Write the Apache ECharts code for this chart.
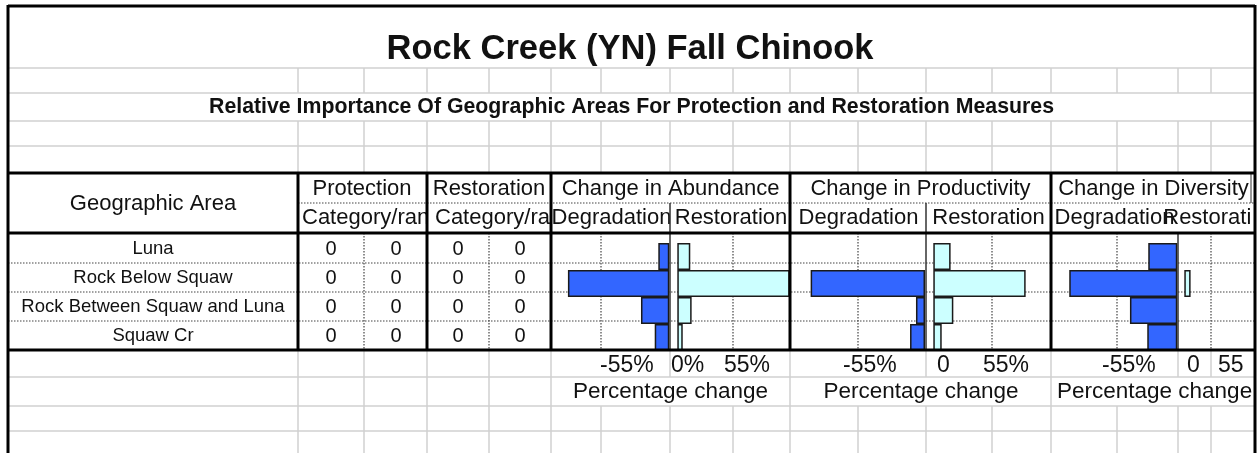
<!DOCTYPE html>
<html>
<head>
<meta charset="utf-8">
<title>Rock Creek (YN) Fall Chinook</title>
<script src="https://cdn.jsdelivr.net/npm/echarts@6/dist/echarts.min.js"></script>
<style>
  html, body { margin: 0; padding: 0; background: #fff; }
  #chart { width: 1260px; height: 453px; }
</style>
</head>
<body>
<div id="chart"></div>
<script>
// --- data ---
const titleText = "Rock Creek (YN) Fall Chinook";
const subtitleText = "Relative Importance Of Geographic Areas For Protection and Restoration Measures";
const areas = ["Luna", "Rock Below Squaw", "Rock Between Squaw and Luna", "Squaw Cr"];
const protectionCategory = [0, 0, 0, 0];
const protectionRank = [0, 0, 0, 0];
const restorationCategory = [0, 0, 0, 0];
const restorationRank = [0, 0, 0, 0];
// percent change, degradation negative
const abundanceDegradation = [-8.9, -82.0, -22.9, -11.8];
const abundanceRestoration = [10.5, 91.0, 11.6, 4.4];
const productivityDegradation = [0, -92.5, -7.3, -12.1];
const productivityRestoration = [14.0, 74.7, 16.2, 6.8];
const diversityDegradation = [-23.5, -87.4, -38.3, -24.3];
const diversityRestoration = [0, 5.1, 0, 0];
const abundanceTicks = ["-55%", "0%", "55%"];
const productivityTicks = ["-55%", "0", "55%"];
const diversityTicks = ["-55%", "0", "55"];
const axisTitle = "Percentage change";

// --- layout ---
const FONT = '"Liberation Sans", Arial, sans-serif';
const BLUE = "#3366ff";
const CYAN = "#ccffff";
const PX_PER_PCT = 68 / 55;
const cols = [298, 364, 427, 489, 551, 601, 670, 733, 790, 858, 926, 992, 1051, 1117, 1178, 1211];
const LEFT = 8, RIGHT = 1255, TOP = 6, H = 453;
const PLOT_TOP = 243, PLOT_H = 108;

const panels = [
  { title: "Change in Abundance", x0: 551, x1: 790, titleX: 670.5, zero: 670,
    degLeft: 553, degEnd: 669.3, restStart: 677.3, restRight: 789,
    deg: abundanceDegradation, rest: abundanceRestoration,
    degX: 611.5, restX: 731, ticks: abundanceTicks, tickX: [600, 671, 724],
    axisX: 670.5, axisAlign: "center", dividerTop: 203 },
  { title: "Change in Productivity", x0: 790, x1: 1051, titleX: 920.5, zero: 926,
    degLeft: 792, degEnd: 925, restStart: 933.3, restRight: 1049,
    deg: productivityDegradation, rest: productivityRestoration,
    degX: 858.5, restX: 988.5, ticks: productivityTicks, tickX: [843, 937, 983],
    axisX: 921, axisAlign: "center", dividerTop: 203 },
  { title: "Change in Diversity", x0: 1051, x1: 1255, titleX: 1153.5, zero: 1178,
    degLeft: 1053, degEnd: 1177.3, restStart: 1184.3, restRight: 1253,
    deg: diversityDegradation, rest: diversityRestoration,
    degX: 1114.5, restX: 1219.5, ticks: diversityTicks, tickX: [1102, 1187, 1218],
    axisX: 1057, axisAlign: "left", dividerTop: 233 }
];

const els = [];
function line(x1, y1, x2, y2, stroke, width, z, dash) {
  els.push({ type: "line", silent: true, z: z,
    shape: { x1: x1, y1: y1, x2: x2, y2: y2 },
    style: { stroke: stroke, lineWidth: width, lineDash: dash || null } });
}
function grey(x1, y1, x2, y2) { line(x1, y1, x2, y2, "#d0d0d0", 1.5, 0); }
function dotted(x1, y1, x2, y2) { line(x1, y1, x2, y2, "#444", 1.2, 1, [1.5, 1.5]); }
function thick(x1, y1, x2, y2) { line(x1, y1, x2, y2, "#000", 3, 20); }
function text(str, x, y, size, align, z, weight) {
  els.push({ type: "text", silent: true, z: z || 15,
    style: { text: str, x: x, y: y, font: (weight || "") + " " + size + "px " + FONT, fill: "#111",
      textAlign: align || "center", textVerticalAlign: "middle", verticalAlign: "middle" } });
}

// spreadsheet grid above the table
[68, 93, 121, 146].forEach(y => grey(LEFT, y, RIGHT, y));
cols.forEach(x => { grey(x, 68, x, 93); grey(x, 121, x, 172); });

// spreadsheet grid below the table
[377, 406, 431].forEach(y => grey(LEFT, y, RIGHT, y));
const hiddenInTicks = [601, 733, 858, 992, 1117];
const shownInAxisTitle = [298, 364, 427, 489, 551, 790, 1051];
cols.forEach(x => {
  if (hiddenInTicks.indexOf(x) < 0) grey(x, 350, x, 377);
  if (shownInAxisTitle.indexOf(x) >= 0) grey(x, 377, x, 406);
  grey(x, 406, x, H);
});

// dotted cell borders inside the table
dotted(298, 203, RIGHT, 203);
[263, 292, 321].forEach(y => dotted(LEFT, y, RIGHT, y));
[364, 489, 601, 733, 858, 992, 1117, 1211].forEach(x => dotted(x, 233, x, 350));

// titles
text(titleText, 630, 49, 34.5, "center", 15, "bold");
text(subtitleText, 631.5, 107, 21.3, "center", 15, "bold");

// left part of the table
text("Geographic Area", 153, 204, 22);
text("Protection", 362, 189, 22);
text("Restoration", 489, 189, 22);
text("Category/ran", 302, 218, 22, "left");
text("Category/ra", 435, 218, 22, "left");
const rowY = [249, 278, 307, 336];
areas.forEach((a, i) => {
  text(a, 153, rowY[i], 18.5);
  text(String(protectionCategory[i]), 331, rowY[i], 20);
  text(String(protectionRank[i]), 396, rowY[i], 20);
  text(String(restorationCategory[i]), 458, rowY[i], 20);
  text(String(restorationRank[i]), 520, rowY[i], 20);
});

// chart panels: headers, dividers, tick texts
const grids = [], xAxes = [], yAxes = [], series = [];
panels.forEach((p, k) => {
  text(p.title, p.titleX, 189, 22);
  text("Degradation", p.degX, 218, 22);
  if (k === 0) {
    els.push({ type: "rect", silent: true, z: 16,
      shape: { x: p.zero + 1, y: 205, width: p.x1 - p.zero - 3, height: 26 },
      style: { fill: "#fff" } });
  }
  text("Restoration", p.restX, 218, 22, "center", 17);
  line(p.zero, p.dividerTop, p.zero, 350, "#333", 1.5, 18);
  p.ticks.forEach((t, j) => text(t, p.tickX[j], 366, 23, "left"));
  text(axisTitle, p.axisX, 392, 22.5, p.axisAlign);

  // degradation half
  grids.push({ left: p.degLeft, top: PLOT_TOP, width: p.degEnd - p.degLeft, height: PLOT_H });
  xAxes.push({ gridIndex: 2 * k, type: "value", min: -(p.degEnd - p.degLeft) / PX_PER_PCT, max: 0, show: false });
  yAxes.push({ gridIndex: 2 * k, type: "category", data: areas, inverse: true, show: false });
  series.push({ type: "bar", name: p.title + " degradation", xAxisIndex: 2 * k, yAxisIndex: 2 * k,
    data: p.deg.map(v => (v === 0 ? "-" : v)), barCategoryGap: "0%", silent: true,
    itemStyle: { color: BLUE, borderColor: "#1a1a1a", borderWidth: 1.5 } });

  // restoration half
  grids.push({ left: p.restStart, top: PLOT_TOP, width: p.restRight - p.restStart, height: PLOT_H });
  xAxes.push({ gridIndex: 2 * k + 1, type: "value", min: 0, max: (p.restRight - p.restStart) / PX_PER_PCT, show: false });
  yAxes.push({ gridIndex: 2 * k + 1, type: "category", data: areas, inverse: true, show: false });
  series.push({ type: "bar", name: p.title + " restoration", xAxisIndex: 2 * k + 1, yAxisIndex: 2 * k + 1,
    data: p.rest.map(v => (v === 0 ? "-" : v)), barCategoryGap: "0%", silent: true,
    itemStyle: { color: CYAN, borderColor: "#1a1a1a", borderWidth: 1.5 } });
});

// cut the overflowing header text at the sheet edge
els.push({ type: "rect", silent: true, z: 19, shape: { x: 1252, y: 204, width: 8, height: 28 }, style: { fill: "#fff" } });
line(1251, 174, 1251, 203, "#333", 1, 18);

// heavy borders
thick(LEFT, TOP, RIGHT, TOP);
thick(LEFT, TOP - 1, LEFT, H);
thick(RIGHT, TOP - 1, RIGHT, H);
thick(LEFT, 173, RIGHT, 173);
thick(LEFT, 233, RIGHT, 233);
thick(LEFT, 350, RIGHT, 350);
[298, 427, 551, 790, 1051].forEach(x => thick(x, 173, x, 350));

const chart = echarts.init(document.getElementById("chart"));
chart.setOption({
  animation: false,
  backgroundColor: "#fff",
  grid: grids,
  xAxis: xAxes,
  yAxis: yAxes,
  series: series,
  graphic: { elements: els }
});
</script>
</body>
</html>
